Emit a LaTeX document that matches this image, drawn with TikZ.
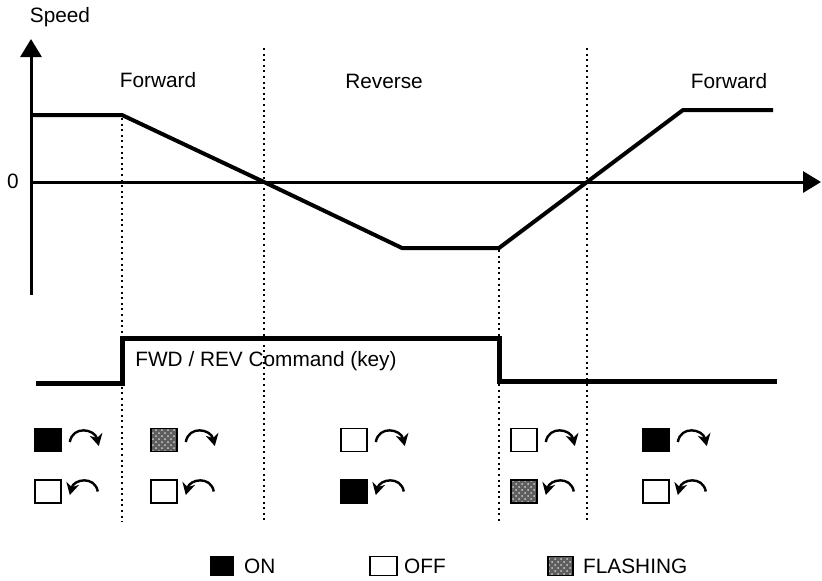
\documentclass[tikz,border=0pt]{standalone}
\usepackage{fontspec}
\setmainfont{Liberation Sans}
\usetikzlibrary{arrows.meta, positioning, patterns}
\definecolor{lampgray}{HTML}{5E5E5E}

\begin{document}
\begin{tikzpicture}[x=0.5pt, y=-0.5pt, font=\fontsize{10.4}{12}\selectfont, >=Stealth,
  axis/.style={line width=1.5pt, -{Triangle[width=10.5pt, length=9pt]}},
  trace/.style={line width=2pt},
  cmdline/.style={line width=2.5pt},
  divider/.style={line width=1pt, dash pattern=on 1pt off 1.8pt},
  lamp/.style={draw, line width=0.8pt, minimum width=13pt, minimum height=11.5pt, inner sep=0pt},
  onlamp/.style={lamp, fill=black},
  offlamp/.style={lamp, fill=white},
  flashlamp/.style={lamp, preaction={fill=lampgray}, pattern=crosshatch dots, pattern color=white!80!black},
  turn/.style={line width=1.2pt, -{Stealth[length=6pt, width=6.5pt]}},
  lbl/.style={anchor=base, inner sep=0pt}]
  \useasboundingbox (0,0) rectangle (822,580);

  % axes
  \coordinate (ybot) at (31,295);
  \coordinate (ytop) at (31,39);
  \coordinate (zero) at (31,182);
  \coordinate (xend) at (821,182);
  \draw[axis] (ybot) -- (ytop);
  \draw[axis] (zero) -- (xend);
  \node[lbl] (speedlbl) at (60,22) {Speed};
  \node[lbl] (zerolbl) at (13,188) {0};

  % time marks
  \foreach \x/\top in {122/118, 264/48, 499/250, 587/48}
    \draw[divider] (\x,\top) -- (\x,522);

  % speed profile
  \draw[trace] (zero |- 0,115) -- (122,115) -- (264,182) -- (402,248) -- (499,248)
    -- (587,182) -- (683,110) -- (773,110);
  \node[lbl] (fwdA) at (158,87) {Forward};
  \node[lbl] (rev) at (384,88) {Reverse};
  \node[lbl] (fwdB) at (729,88) {Forward};

  % command
  \draw[cmdline] (36,383) -- (122,383) -- (122,338) -- (499,338) -- (499,381) -- (777,381);
  \node[lbl, anchor=base west] (cmd) at (135,366) {FWD / REV Command (key)};

  % lamps
  \foreach \x/\fa/\ra [count=\i] in {48/onlamp/offlamp, 164/flashlamp/offlamp,
      354/offlamp/onlamp, 524/offlamp/flashlamp, 656/onlamp/offlamp}{
    \node[\fa] (fw\i) at (\x,440) {};
    \node[\ra] (rv\i) at (\x,491.5) {};
    \draw[turn] ([xshift=4pt, yshift=-1pt]fw\i.east) .. controls +(3,-17) and +(-4,-17)
      .. ([xshift=18.5pt, yshift=-3pt]fw\i.east);
    \draw[turn] ([xshift=18pt, yshift=0pt]rv\i.east) .. controls +(-3,-16) and +(4,-16)
      .. ([xshift=4pt, yshift=-1.75pt]rv\i.east);
  }

  % legend
  \node[onlamp, minimum width=11pt, minimum height=9.5pt] (legon) at (222,566) {};
  \node[right=5pt of legon, inner sep=0pt] (legontxt) {ON};
  \node[offlamp, minimum width=13.5pt, minimum height=9.5pt] (legoff) at (383.5,566) {};
  \node[right=3pt of legoff, inner sep=0pt] (legofftxt) {OFF};
  \node[flashlamp, minimum width=12.5pt, minimum height=9.5pt] (legflash) at (560.5,566) {};
  \node[right=4.5pt of legflash, inner sep=0pt] (legflashtxt) {FLASHING};
\end{tikzpicture}
\end{document}
